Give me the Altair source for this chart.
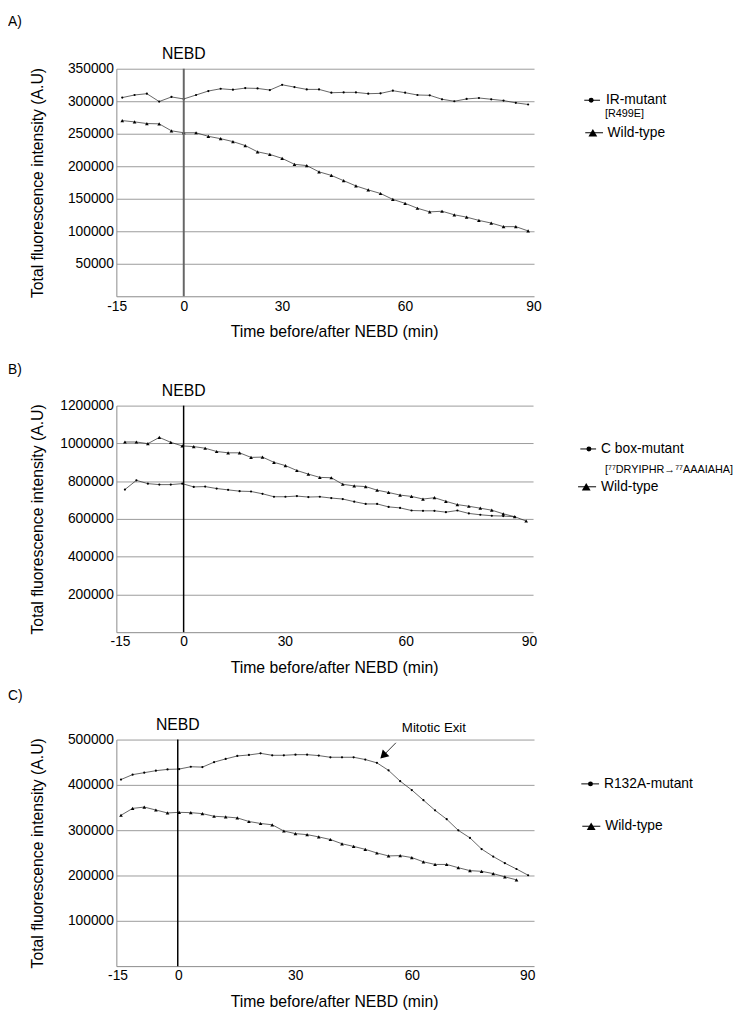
import altair as alt
import pandas as pd

FONT = "Liberation Sans"

# ---------------- data ----------------
# Panel A
a_names = ["IR-mutant", "Wild-type"]
a_mut = [305600, 309600, 311600, 299500, 306600, 303500, 309600, 315700, 319200, 317700,
         320200, 319700, 317200, 325300, 321700, 318200, 318200, 313100, 313600, 313600,
         311600, 312100, 316200, 313100, 309600, 309100, 303000, 300000, 303500, 305000,
         303000, 301000, 297500, 295000]
a_wt = [270200, 268200, 265700, 265200, 254500, 251500, 251500, 246000, 242400, 237900,
        231800, 222200, 218200, 212100, 203000, 201000, 191400, 185900, 177800, 169700,
        163600, 158100, 149000, 142900, 135400, 129800, 130800, 125300, 121700, 116700,
        112600, 107100, 107100, 100500]
a_sub = "[R499E]"

# Panel B
b_names = ["C box-mutant", "Wild-type"]
b_mut = [755600, 804200, 786800, 781600, 781600, 786800, 769500, 771200, 760800, 753800,
         746900, 745200, 733000, 717400, 717400, 720900, 715700, 717400, 710400, 705200,
         691400, 679200, 679200, 663600, 658400, 644500, 642800, 642800, 635800, 644500,
         628900, 621900, 616700, 615000, 611500]
b_wt = [1007300, 1007300, 998600, 1031600, 1005600, 986500, 983000, 974300, 957000, 950000,
        950000, 925700, 927400, 899700, 882300, 856300, 837200, 819800, 818100, 783400,
        774700, 771200, 752100, 740000, 726100, 719100, 705200, 712200, 693100, 675700,
        667000, 656600, 646200, 627100, 611500, 588900]
b_sub = "[\u2077\u2077DRYIPHR\u2192\u2077\u2077AAAIAHA]"

# Panel C
c_names = ["R132A-mutant", "Wild-type"]
c_mut = [411800, 422600, 426900, 431300, 434200, 434900, 440000, 439200, 450100, 457300,
         463800, 466000, 469600, 465300, 465300, 466700, 466700, 464600, 460900, 460900,
         460900, 455900, 448600, 432000, 408100, 388600, 366200, 343800, 324200, 299600,
         283000, 258400, 241800, 227300, 214300, 200600]
c_wt = [332900, 348100, 351000, 344500, 338000, 339400, 338700, 336500, 330700, 329300,
        327100, 319200, 314800, 311900, 298200, 292400, 290200, 285200, 279400, 270000,
        264200, 257700, 249700, 243200, 243900, 239600, 230200, 224400, 224400, 217200,
        210700, 209200, 204200, 197000, 190400]

# x-axis tick labels (minutes) and the frame at which each label sits
tick_labels = ["-15", "0", "30", "60", "90"]
a_tick_frames = [-0.456, 5.0, 12.98, 22.99, 33.43]
b_tick_frames = [-0.43, 5.12, 13.95, 24.5, 35.25]
c_tick_frames = [-0.3, 4.94, 14.98, 25.0, 34.92]

# Mitotic exit annotation (frame, value)
mitotic_text = ["Mitotic Exit"]
mitotic_text_pos = [(26.9, 515800)]
arrow_start = (23.63, 492840)
arrow_head = (22.54, 464400)

Y_TITLE = "Total fluorescence intensity (A.U)"
X_TITLE = "Time before/after NEBD (min)"


def label_expr(pos, labs):
    expr = "''"
    for p, l in reversed(list(zip(pos, labs))):
        expr = f"abs(datum.value - ({p})) < 0.05 ? '{l}' : {expr}"
    return expr


def series_df(vals, name):
    return pd.DataFrame({"frame": list(range(len(vals))), "value": vals, "series": name})


def panel(tag, names, mut, wt, sub, ydom, yticks, xdom, tick_frames, nebd_frame,
          w, h, nebd_color, nebd_width, leg, extra=None):
    xscale = alt.Scale(domain=xdom, nice=False, zero=False)
    yscale = alt.Scale(domain=ydom, nice=False, zero=True)
    xaxis = alt.Axis(values=tick_frames, tickCount=20,
                     labelExpr=label_expr(tick_frames, tick_labels),
                     labelFlush=False, labelOverlap=False, grid=False, ticks=False,
                     labelPadding=3, title=X_TITLE, titleX=221, titleY=41,
                     titleAlign="center", titleBaseline="alphabetic")
    yaxis = alt.Axis(values=yticks, tickCount=20, format="d", grid=True, ticks=False,
                     labelPadding=3, labelOverlap=False, labelFlush=False,
                     title=Y_TITLE, titleX=-74.5, titleY=h / 2, titleAngle=-90,
                     titleAlign="center", titleBaseline="alphabetic")

    layers = []
    dm = series_df(mut, names[0])
    dw = series_df(wt, names[1])
    layers.append(alt.Chart(dm).mark_line(color="#222", strokeWidth=0.7).encode(
        x=alt.X("frame:Q", scale=xscale, axis=xaxis),
        y=alt.Y("value:Q", scale=yscale, axis=yaxis)))
    layers.append(alt.Chart(dw).mark_line(color="#222", strokeWidth=0.7).encode(
        x="frame:Q", y="value:Q"))
    layers.append(alt.Chart(dm).mark_point(filled=True, color="black", opacity=1,
                                           shape="circle", size=5).encode(
        x="frame:Q", y="value:Q"))
    layers.append(alt.Chart(dw).mark_point(filled=True, color="black", opacity=1,
                                           shape="triangle-up", size=14).encode(
        x="frame:Q", y="value:Q"))

    nebd_df = pd.DataFrame({"frame": [nebd_frame], "label": ["NEBD"]})
    layers.append(alt.Chart(nebd_df).mark_rule(color=nebd_color, strokeWidth=nebd_width).encode(
        x="frame:Q", y=alt.value(0), y2=alt.value(h)))
    layers.append(alt.Chart(nebd_df).mark_text(fontSize=16, font=FONT, baseline="alphabetic",
                                               align="center", color="black").encode(
        x="frame:Q", y=alt.value(-10), text="label:N"))

    # panel tag
    layers.append(alt.Chart(pd.DataFrame({"label": [tag]})).mark_text(
        fontSize=14, font=FONT, align="left", baseline="middle", color="black").encode(
        x=alt.value(-110), y=alt.value(leg["tag_y"]), text="label:N"))

    # hand-drawn legend
    for i, (name, shape, msize) in enumerate([(names[0], "circle", 25),
                                              (names[1], "triangle-up", 80)]):
        e = leg["entries"][i]
        one = pd.DataFrame({"label": [name]})
        layers.append(alt.Chart(one).mark_rule(color="black", strokeWidth=1).encode(
            x=alt.value(e["x1"]), x2=alt.value(e["x2"]), y=alt.value(e["y"])))
        layers.append(alt.Chart(one).mark_point(filled=True, color="black", opacity=1,
                                                shape=shape, size=msize).encode(
            x=alt.value(e["mx"]), y=alt.value(e["y"])))
        layers.append(alt.Chart(one).mark_text(fontSize=14, font=FONT, align="left",
                                               baseline="middle", color="black").encode(
            x=alt.value(e["tx"]), y=alt.value(e["y"]), text="label:N"))
    if sub:
        layers.append(alt.Chart(pd.DataFrame({"label": [sub]})).mark_text(
            fontSize=11, font=FONT, align="left", baseline="middle", color="black").encode(
            x=alt.value(leg["sub_x"]), y=alt.value(leg["sub_y"]), text="label:N"))

    if extra:
        layers.extend(extra)

    return alt.layer(*layers).properties(width=w, height=h)


# Mitotic exit annotation layers for panel C
mt_df = pd.DataFrame({"frame": [p[0] for p in mitotic_text_pos],
                      "value": [p[1] for p in mitotic_text_pos], "label": mitotic_text})
arrow_df = pd.DataFrame({"frame": [arrow_start[0]], "value": [arrow_start[1]],
                         "frame2": [arrow_head[0]], "value2": [arrow_head[1]]})
head_df = pd.DataFrame({"frame": [arrow_head[0]], "value": [arrow_head[1]]})
c_extra = [
    alt.Chart(mt_df).mark_text(fontSize=13.5, font=FONT, align="center",
                               baseline="alphabetic", color="black").encode(
        x="frame:Q", y="value:Q", text="label:N"),
    alt.Chart(arrow_df).mark_rule(color="black", strokeWidth=0.8).encode(
        x="frame:Q", y="value:Q", x2="frame2:Q", y2="value2:Q"),
    alt.Chart(head_df).mark_point(shape="triangle-up", filled=True, color="black",
                                  opacity=1, size=90, angle=225).encode(
        x="frame:Q", y="value:Q"),
]

legA = {"tag_y": -47, "sub_x": 496, "sub_y": 46,
        "entries": [{"x1": 475, "x2": 491, "mx": 482, "tx": 497, "y": 32},
                    {"x1": 476, "x2": 494, "mx": 483.7, "tx": 498.7, "y": 65}]}
legB = {"tag_y": -36, "sub_x": 496, "sub_y": 65.7,
        "entries": [{"x1": 471, "x2": 487, "mx": 479.7, "tx": 492, "y": 44},
                    {"x1": 468.7, "x2": 487, "mx": 477, "tx": 492, "y": 82.4}]}
legC = {"tag_y": -44, "sub_x": 0, "sub_y": 0,
        "entries": [{"x1": 472, "x2": 490, "mx": 481.3, "tx": 495, "y": 45},
                    {"x1": 473, "x2": 491.3, "mx": 482, "tx": 496.3, "y": 88}]}

pA = panel("A)", a_names, a_mut, a_wt, a_sub, [0, 350000],
           [50000, 100000, 150000, 200000, 250000, 300000, 350000],
           [-0.48, 33.48], a_tick_frames, 5.0, 424, 231, "#666", 2, legA)
pB = panel("B)", b_names, b_mut, b_wt, b_sub, [0, 1200000],
           [200000, 400000, 600000, 800000, 1000000, 1200000],
           [-0.748, 35.6], b_tick_frames, 5.12, 423, 230, "black", 1.5, legB)
pC = panel("C)", c_names, c_mut, c_wt, None, [0, 500000],
           [100000, 200000, 300000, 400000, 500000],
           [-0.398, 35.507], c_tick_frames, 4.88, 424, 230, "black", 1.5, legC, c_extra)

chart = alt.vconcat(alt.vconcat(pA, pB, spacing=24), pC, spacing=14).properties(
    padding=0
).configure_view(stroke=None).configure_axis(
    labelFont=FONT, titleFont=FONT, labelFontSize=14, titleFontSize=16,
    titleFontWeight="normal", labelColor="black", titleColor="black",
    domainColor="#8a8a8a", gridColor="#9a9a9a", domainWidth=1, gridWidth=1
)

chart.save("out.html", embed_options={"renderer": "svg", "actions": False})
